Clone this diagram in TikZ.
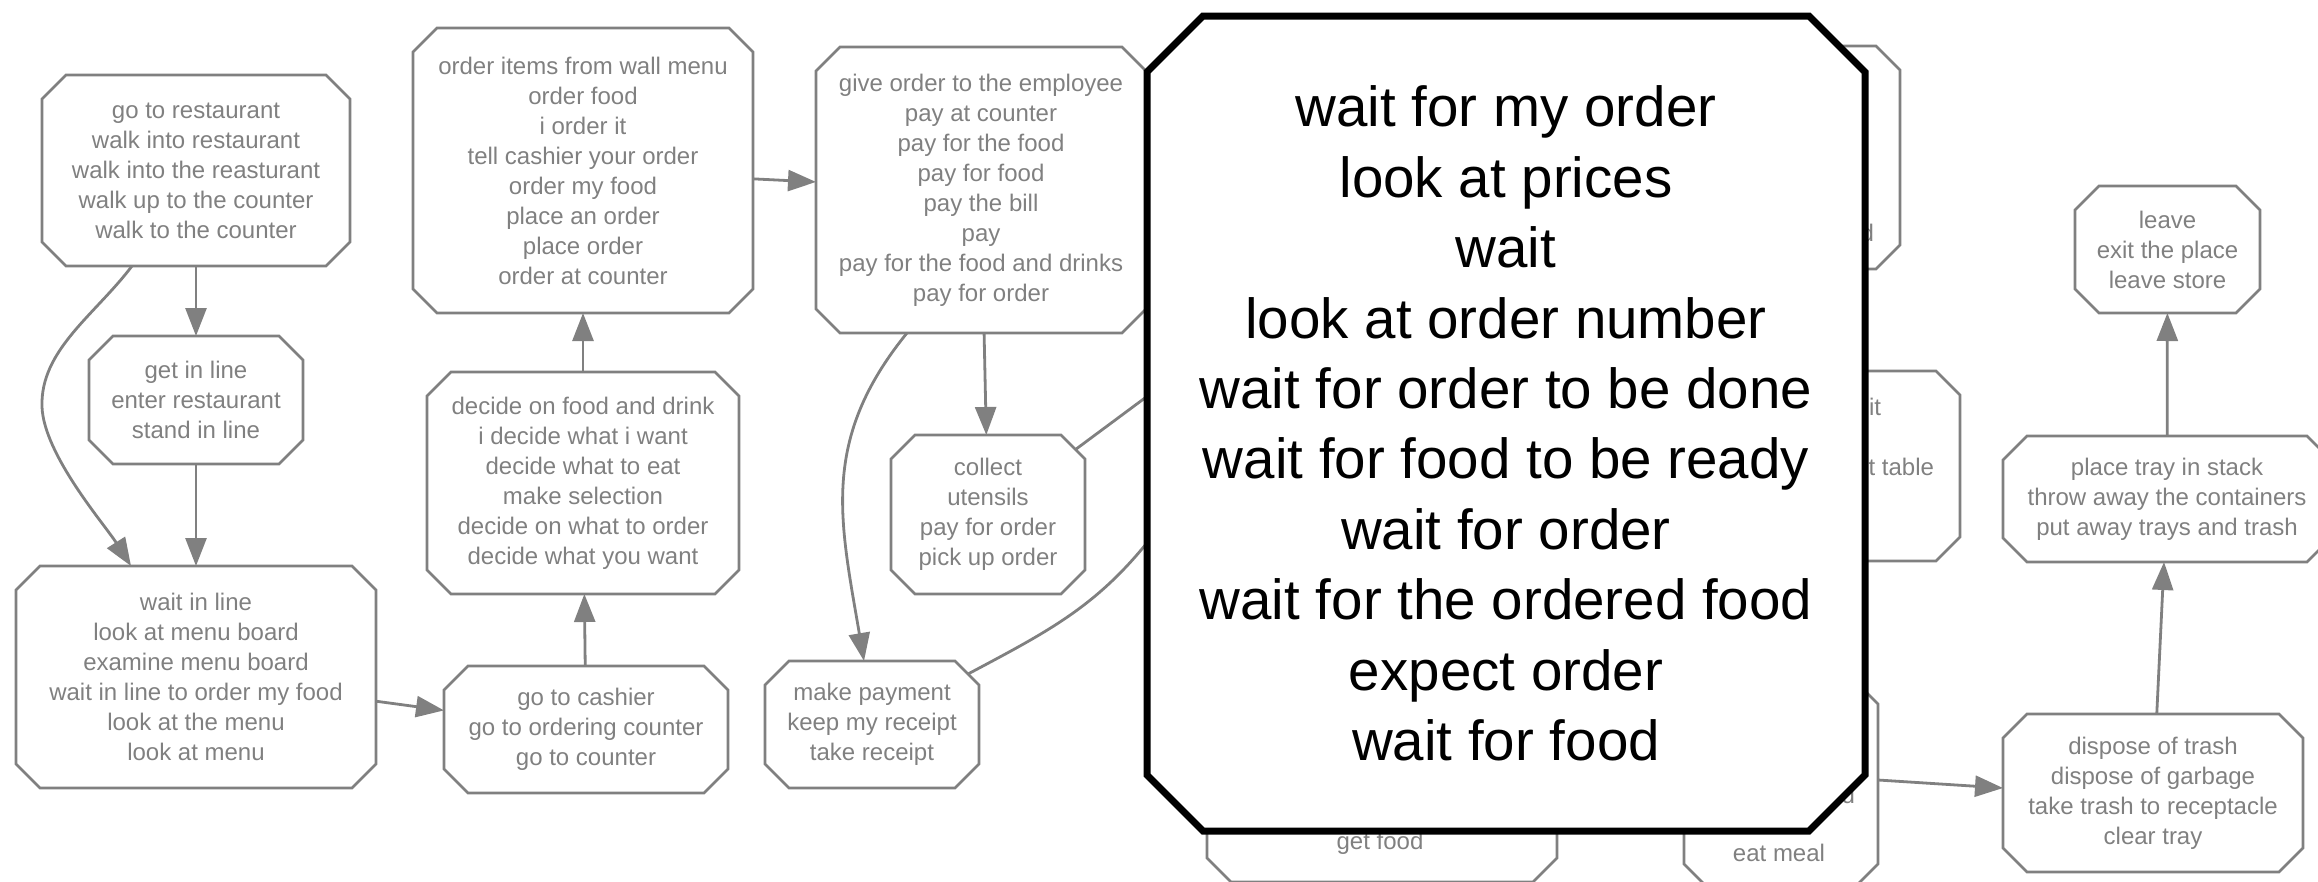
\documentclass[tikz,border=0pt]{standalone}
\usepackage{fontspec}
\setmainfont{Liberation Sans}
\usetikzlibrary{arrows.meta}
\definecolor{ggray}{RGB}{128,128,128}
\pgfdeclarelayer{jfill}
\pgfdeclarelayer{jtext}
\pgfsetlayers{main,jfill,jtext}
\newcommand\drawoct[3]{%
  \draw[#3] ([xshift=#2]#1.north west) -- ([xshift=-#2]#1.north east) -- ([yshift=-#2]#1.north east) -- ([yshift=#2]#1.south east) -- ([xshift=-#2]#1.south east) -- ([xshift=#2]#1.south west) -- ([yshift=#2]#1.south west) -- ([yshift=-#2]#1.north west) -- cycle;}
\begin{document}
\begin{tikzpicture}[x=1pt,y=-1pt,
  box/.style={rectangle, draw=none, inner sep=0pt, outer sep=0pt, align=center, text=ggray, font=\fontsize{24}{30}\selectfont},
  octline/.style={draw=ggray, line width=2.6pt, line join=miter},
  edge/.style={draw=ggray, line width=2.8pt, -{Triangle[length=28pt,width=21pt]}},
  plain/.style={draw=ggray, line width=2.8pt}]
\clip (0,0) rectangle (2318,881);

% visible nodes
\node[box, minimum width=308pt, minimum height=191pt] (A) at (196,170.5) {go to restaurant\\walk into restaurant\\walk into the reasturant\\walk up to the counter\\walk to the counter};
\node[box, minimum width=214pt, minimum height=128pt] (B) at (196,400) {get in line\\enter restaurant\\stand in line};
\node[box, minimum width=360pt, minimum height=222pt] (C) at (196,677) {wait in line\\look at menu board\\examine menu board\\wait in line to order my food\\look at the menu\\look at menu};
\node[box, minimum width=284pt, minimum height=127pt] (D) at (586,729.5) {go to cashier\\go to ordering counter\\go to counter};
\node[box, minimum width=312pt, minimum height=222pt] (E) at (583,483) {decide on food and drink\\i decide what i want\\decide what to eat\\make selection\\decide on what to order\\decide what you want};
\node[box, minimum width=340pt, minimum height=285pt] (F) at (583,170.5) {order items from wall menu\\order food\\i order it\\tell cashier your order\\order my food\\place an order\\place order\\order at counter};
\node[box, minimum width=330pt, minimum height=286pt] (G) at (981,190) {give order to the employee\\pay at counter\\pay for the food\\pay for food\\pay the bill\\pay\\pay for the food and drinks\\pay for order};
\node[box, minimum width=194pt, minimum height=159pt] (H) at (988,514.5) {collect\\utensils\\pay for order\\pick up order};
\node[box, minimum width=214pt, minimum height=127pt] (I) at (872,724.5) {make payment\\keep my receipt\\take receipt};
\node[box, minimum width=300pt, minimum height=158pt] (N) at (2153,793) {dispose of trash\\dispose of garbage\\take trash to receptacle\\clear tray};
\node[box, minimum width=328pt, minimum height=126pt] (O) at (2167,499) {place tray in stack\\throw away the containers\\put away trays and trash};
\node[box, minimum width=185pt, minimum height=127pt] (P) at (2167.5,249.5) {leave\\exit the place\\leave store};

% nodes mostly hidden behind the large one
\node[box, minimum width=200pt, minimum height=223pt] (K) at (1800,157.5) {};
\node[box, minimum width=260pt, minimum height=190pt] (L) at (1830,466) {};
\node[box, minimum width=194pt, minimum height=208pt] (M) at (1781,784) {};
\node[box, minimum width=350pt, minimum height=182pt] (Q) at (1382,791) {};
\node[box, anchor=east] (kf) at (1874,233) {d};
\node[box, anchor=east] (lf1) at (1881,407) {it};
\node[box, anchor=east] (lf2) at (1934,467) {t table};
\node[box, anchor=east] (mf1) at (1855,795) {d};
\node[box] (mf2) at (1779,853) {eat meal};
\node[box] (qf) at (1380,843) {get food};

\foreach \n in {A,B,C,D,E,F,G,H,I,N,O,P,K,L,M,Q}{\drawoct{\n}{24pt}{octline}}

% connectors
\draw[edge] (A) -- (B);
\draw[edge] (B) -- (C);
\draw[edge] ([xshift=-64pt]A.south) .. controls (95,315) and (40,350) .. (42,407) .. controls (44,455) and (105,525) .. ([xshift=-65pt]C.north);
\draw[edge] (C) -- (D);
\draw[edge] (D) -- (E);
\draw[edge] (E) -- (F);
\draw[edge] (F) -- (G);
\draw[edge] (G) -- (H);
\draw[edge] ([xshift=-74pt]G.south) .. controls (820,440) and (840,520) .. ([xshift=-8pt]I.north);
\coordinate (h1) at (1250,320);
\draw[plain] ([xshift=-9.5pt,yshift=-14.5pt]H.north east) -- (h1);
\coordinate (i1) at (1175,505);
\draw[plain] ([xshift=-11pt,yshift=-13pt]I.north east) .. controls (1060,625) and (1110,600) .. (i1);
\draw[edge] ([yshift=4pt]M.east) -- ([yshift=5pt]N.west);
\draw[edge] (N) -- (O);
\draw[edge] (O) -- (P);

% large highlighted node
\begin{pgfonlayer}{jtext}
\node[rectangle, inner sep=0pt, outer sep=0pt, minimum width=718pt, minimum height=815pt, align=center, text=black, font=\fontsize{56.5}{70.4}\selectfont] (J) at (1506,423.5) {wait for my order\\look at prices\\wait\\look at order number\\wait for order to be done\\wait for food to be ready\\wait for order\\wait for the ordered food\\expect order\\wait for food};
\end{pgfonlayer}
\begin{pgfonlayer}{jfill}
\drawoct{J}{56pt}{draw=black, line width=7pt, line join=miter, fill=white}
\end{pgfonlayer}
\end{tikzpicture}
\end{document}
